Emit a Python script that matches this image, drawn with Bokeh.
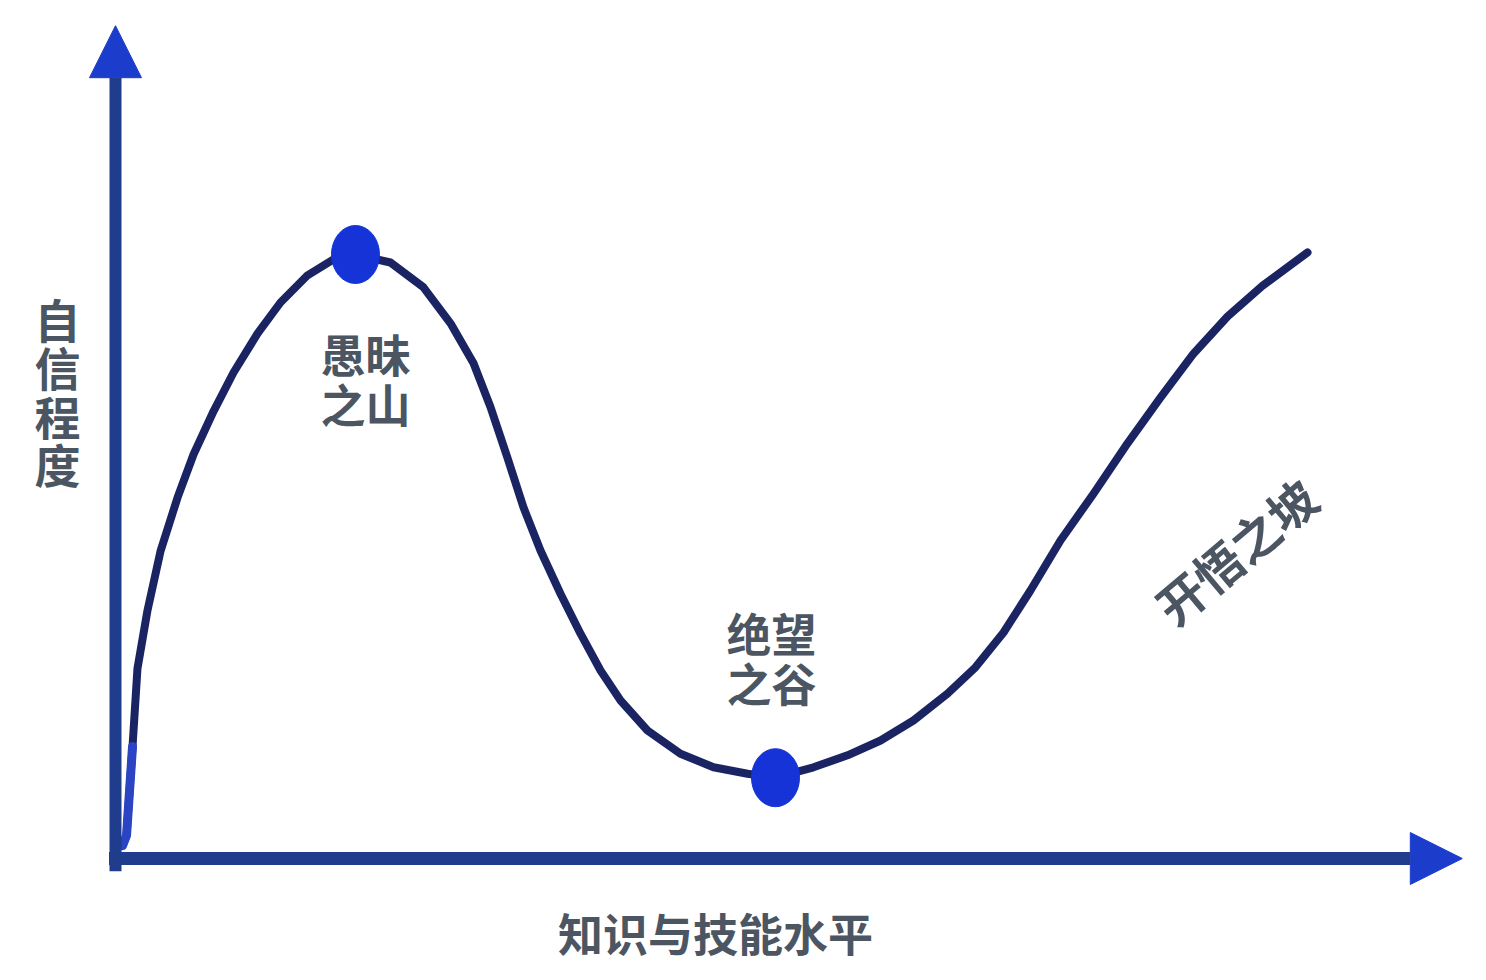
from bokeh.plotting import figure
from bokeh.models import Arrow, NormalHead, Range1d
from bokeh.core.properties import value
from bokeh.embed import file_html
from bokeh.resources import INLINE

# ---- data (knowledge level 0-100, confidence 0-100) ----
knowledge = [0.54, 0.85, 1.31, 1.69, 2.46, 3.46, 4.77, 6.0, 7.54, 9.08, 10.92, 12.69,
             14.77, 16.77, 18.46, 21.15, 23.69, 25.77, 27.54, 28.85, 30.15, 31.38,
             32.69, 34.23, 35.77, 37.31, 38.85, 40.92, 43.46, 46.0, 48.62, 50.77,
             53.69, 56.31, 58.85, 61.38, 64.0, 66.15, 68.31, 70.38, 72.69, 75.23,
             77.85, 80.38, 82.92, 85.54, 88.23, 91.69]
confidence = [1.6, 2.9, 14.0, 23.75, 31.0, 38.4, 45.1, 50.5, 55.9, 60.75, 65.6, 69.5,
              72.9, 74.9, 75.5, 74.5, 71.4, 66.9, 61.9, 56.4, 50.1, 43.9,
              38.5, 33.1, 28.1, 23.5, 19.75, 16.0, 13.1, 11.4, 10.6, 10.1,
              11.4, 12.9, 14.75, 17.25, 20.6, 23.9, 28.25, 33.5, 39.75, 45.6,
              51.9, 57.6, 63.1, 67.75, 71.6, 75.75]

key_x = [18.46, 50.77]          # peak, trough
key_y = [75.5, 10.1]
key_labels = ["愚昧\n之山", "绝望\n之谷"]
slope_label = "开悟之坡"
x_title = "知识与技能水平"
y_title = "自\n信\n程\n度"

AXIS = "#1f3d8c"
HEAD = "#1c3ccc"
CURVE = "#1b2463"
DOT = "#1533d6"
TXT = "#4c5662"
FONT = value("Noto Sans CJK SC")

p = figure(width=1478, height=972,
           x_range=Range1d(-8.846, 104.846), y_range=Range1d(-14.25, 107.25),
           output_backend="svg", toolbar_location=None,
           x_axis_type=None, y_axis_type=None, min_border=0)
p.outline_line_color = None
p.background_fill_color = "white"
p.border_fill_color = "white"

# axes with arrows
p.add_layout(Arrow(end=NormalHead(size=52, fill_color=HEAD, line_color=HEAD),
                   x_start=0, y_start=-1.6, x_end=0, y_end=104.1,
                   line_width=12, line_color=AXIS))
p.add_layout(Arrow(end=NormalHead(size=52, fill_color=HEAD, line_color=HEAD),
                   x_start=-0.5, y_start=0, x_end=103.6, y_end=0,
                   line_width=13, line_color=AXIS))

# curve
p.line(knowledge, confidence, line_width=8, line_color=CURVE,
       line_cap="round", line_join="round")
# brighter start of the curve near the origin
p.line(knowledge[:3], confidence[:3], line_width=9, line_color="#2a44c4",
       line_cap="round", line_join="round")

# key points
p.ellipse(key_x, key_y, width=48, height=58, width_units="screen", height_units="screen",
          fill_color=DOT, line_color=DOT)

# labels below / above key points
p.text(x=[key_x[0]], y=[key_y[0]], text=[key_labels[0]], x_offset=10, y_offset=124,
       text_align="center", text_baseline="middle", text_font=FONT,
       text_font_style="bold", text_font_size="45px", text_color=TXT, text_line_height=0.77)
p.text(x=[key_x[1]], y=[key_y[1]], text=[key_labels[1]], x_offset=-4, y_offset=-120,
       text_align="center", text_baseline="middle", text_font=FONT,
       text_font_style="bold", text_font_size="45px", text_color=TXT, text_line_height=0.77)

p.text(x=[86.15], y=[38.5], text=[slope_label], angle=0.70,
       text_align="center", text_baseline="middle", text_font=FONT,
       text_font_style="bold", text_font_size="48px", text_color=TXT)

p.text(x=[-4.46], y=[58.5], text=[y_title],
       text_align="center", text_baseline="middle", text_font=FONT,
       text_font_style="bold", text_font_size="46px", text_color=TXT, text_line_height=0.73)

p.text(x=[46.15], y=[-9.25], text=[x_title],
       text_align="center", text_baseline="middle", text_font=FONT,
       text_font_style="bold", text_font_size="45px", text_color=TXT)

open("out.html", "w").write(file_html(p, INLINE))
